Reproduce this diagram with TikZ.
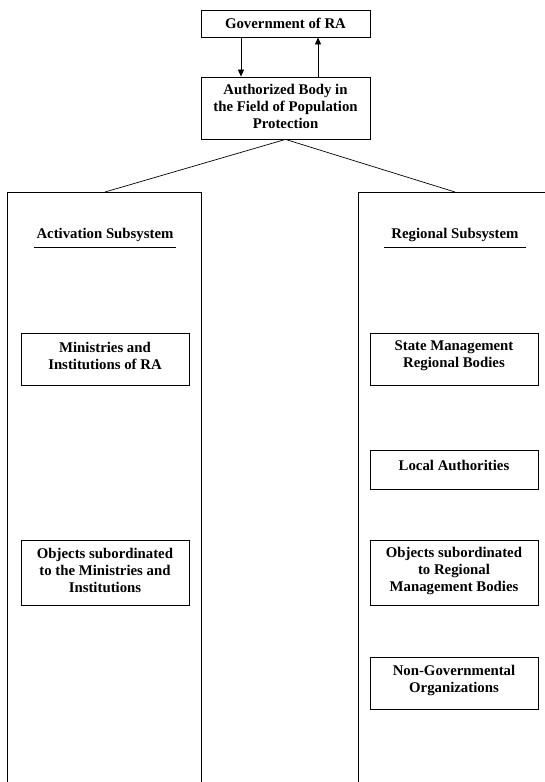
\documentclass[tikz,border=0pt]{standalone}
\usepackage{fontspec}
\setmainfont{Liberation Serif}
\usetikzlibrary{arrows.meta}
\begin{document}
\begin{tikzpicture}[x=1pt,y=-1pt,
  txt/.style={font=\fontsize{14.8}{17}\selectfont\bfseries,inner sep=0pt,align=center},
  box/.style={draw,line width=0.8pt,inner sep=0pt},
  conn/.style={line width=0.7pt},
  arr/.style={conn,-{Triangle[length=7pt,width=6pt]}}]
\useasboundingbox (0,0) rectangle (545,782);
% top boxes
\node[box,minimum width=169pt,minimum height=27pt,label={[txt]center:Government of RA}] (gov) at (285.5,23.5) {};
\node[box,minimum width=169pt,minimum height=62pt,label={[txt,yshift=2pt]center:{Authorized Body in\\the Field of Population\\Protection}}] (auth) at (285.5,108) {};
\draw[arr] (gov.south -| 241,0) -- (auth.north -| 241,0);
\draw[arr] (auth.north -| 318,0) -- (gov.south -| 318,0);
% subsystem frames (open at bottom)
\coordinate (lt) at (105,192);
\coordinate (rt) at (455,192);
\draw[conn] (7,790) -- (7,192) -- (201,192) -- (201,790);
\draw[conn] (358,790) -- (358,192) -- (550,192);
\draw[conn] (auth.south) -- (lt);
\draw[conn] (auth.south) -- (rt);
% subsystem titles
\node[txt] (act) at (105,235) {Activation Subsystem};
\draw[conn] (34,247) -- (176,247);
\node[txt] (reg) at (455,235) {Regional Subsystem};
\draw[conn] (384,247) -- (526,247);
% left boxes
\node[box,minimum width=168pt,minimum height=52pt,label={[txt,yshift=3pt]center:{Ministries and\\Institutions of RA}}] (min) at (105,359) {};
\node[box,minimum width=168pt,minimum height=65pt,label={[txt,yshift=2pt]center:{Objects subordinated\\to the Ministries and\\Institutions}}] (objl) at (105,572.5) {};
% right boxes
\node[box,minimum width=168pt,minimum height=52pt,label={[txt,yshift=3pt]center:{State Management\\Regional Bodies}}] (state) at (454,359) {};
\node[box,minimum width=168pt,minimum height=39pt,label={[txt,yshift=4pt]center:Local Authorities}] (local) at (454,469.5) {};
\node[box,minimum width=168pt,minimum height=65pt,label={[txt,yshift=2pt]center:{Objects subordinated\\to Regional\\Management Bodies}}] (objr) at (454,572.5) {};
\node[box,minimum width=168pt,minimum height=52pt,label={[txt,yshift=3pt]center:{Non-Governmental\\Organizations}}] (ngo) at (454,683) {};
\end{tikzpicture}
\end{document}
